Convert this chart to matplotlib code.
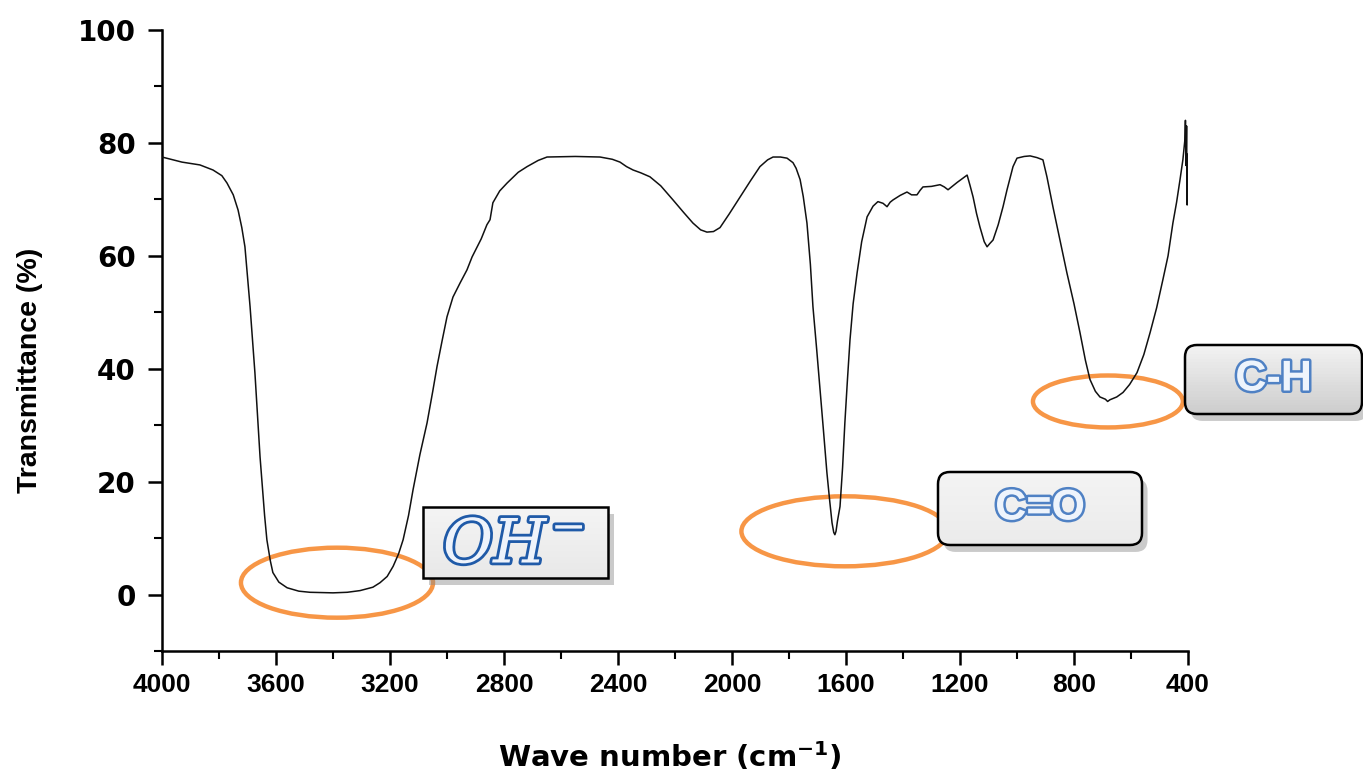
import matplotlib
matplotlib.use("Agg")
import matplotlib.pyplot as plt
from matplotlib import font_manager
from matplotlib.patches import Ellipse, FancyBboxPatch, Rectangle
from matplotlib.ticker import MultipleLocator
import matplotlib.patheffects as pe
import numpy as np

# ---------------- data ----------------
wavenumber = [4000, 3930, 3867, 3821, 3790, 3772, 3750, 3733, 3720, 3709, 3691, 3674,
              3656, 3640, 3632, 3620, 3611, 3590, 3561, 3520, 3481, 3400, 3350, 3305,
              3260, 3235, 3210, 3189, 3170, 3154, 3135, 3119, 3095, 3070, 3050, 3035,
              3017, 3000, 2979, 2954, 2930, 2912, 2880, 2860, 2849, 2839, 2815, 2789,
              2750, 2719, 2680, 2649, 2550, 2463, 2420, 2393, 2370, 2347, 2320, 2288,
              2250, 2207, 2170, 2137, 2110, 2088, 2065, 2042, 2010, 1972, 1935, 1902,
              1875, 1856, 1830, 1807, 1786, 1775, 1761, 1750, 1737, 1725, 1716, 1703,
              1691, 1679, 1667, 1657, 1649, 1643, 1639, 1635, 1630, 1621, 1612, 1604,
              1595, 1586, 1575, 1561, 1545, 1526, 1505, 1488, 1470, 1456, 1445, 1435,
              1410, 1386, 1370, 1351, 1340, 1330, 1300, 1270, 1255, 1242, 1210, 1175,
              1165, 1154, 1142, 1130, 1115, 1105, 1095, 1084, 1066, 1049, 1035, 1014,
              1000, 975, 954, 930, 909, 895, 874, 850, 825, 800, 779, 760, 744, 725,
              709, 690, 682, 674, 650, 628, 605, 579, 555, 533, 510, 488, 470, 453,
              440, 428, 418, 411, 409, 407, 405, 403, 401, 400]
transmittance = [77.5, 76.6, 76.1, 75.2, 74.2, 72.9, 70.8, 68.1, 65.0, 61.6, 51.0, 39.3,
                 24.4, 14.0, 9.7, 6.0, 3.9, 2.2, 1.2, 0.6, 0.4, 0.3, 0.4, 0.7,
                 1.3, 2.1, 3.2, 5.0, 7.2, 9.7, 14.0, 18.6, 24.8, 30.4, 36.0, 40.4,
                 45.0, 49.2, 52.7, 55.2, 57.5, 59.8, 63.0, 65.5, 66.4, 69.4, 71.5, 72.9,
                 74.8, 75.8, 76.9, 77.5, 77.6, 77.5, 77.1, 76.6, 75.8, 75.2, 74.7, 74.0,
                 72.4, 69.9, 67.7, 65.8, 64.6, 64.2, 64.3, 65.0, 67.4, 70.4, 73.3, 75.8,
                 77.0, 77.5, 77.5, 77.3, 76.5, 75.5, 73.5, 70.5, 65.8, 58.5, 51.0, 43.5,
                 36.3, 29.0, 21.6, 16.5, 12.7, 11.0, 10.6, 11.2, 13.0, 15.6, 22.5, 30.4,
                 38.0, 45.1, 51.5, 57.0, 62.5, 66.9, 68.8, 69.6, 69.3, 68.7, 69.5, 69.9,
                 70.7, 71.3, 70.8, 70.8, 71.6, 72.2, 72.3, 72.6, 72.2, 71.7, 73.0, 74.3,
                 72.5, 70.4, 67.5, 65.1, 62.5, 61.6, 62.2, 62.8, 65.5, 68.7, 71.7, 75.8,
                 77.3, 77.6, 77.7, 77.4, 77.0, 74.0, 68.7, 63.0, 57.0, 51.5, 46.4, 41.5,
                 38.1, 36.0, 35.0, 34.6, 34.2, 34.5, 35.0, 35.8, 37.2, 39.3, 42.5, 46.4,
                 50.8, 55.8, 60.0, 65.8, 69.5, 73.5, 77.0, 80.5, 84.0, 76.0, 83.0, 69.0,
                 78.0, 70.0]

x_ticks = [4000, 3600, 3200, 2800, 2400, 2000, 1600, 1200, 800, 400]
y_ticks = [0, 20, 40, 60, 80, 100]

x_label = "Wave number (cm$^{\\mathbf{-1}}$)"
y_label = "Transmittance (%)"

# annotations: label, ellipse centre (wavenumber, T), ellipse size (wavenumber, T)
band_labels = ["$OH^{-}$", "C=O", "C-H"]
band_centres = [(3386, 2.1), (1604, 11.2), (681, 34.2)]
band_sizes = [(674, 12.4), (726, 12.4), (526, 9.2)]


def pick_font(names):
    for n in names:
        try:
            font_manager.findfont(font_manager.FontProperties(family=n),
                                  fallback_to_default=False)
            return n
        except Exception:
            continue
    return "DejaVu Sans"


narrow = pick_font(["Liberation Sans Narrow", "Liberation Sans", "DejaVu Sans"])

W, H = 1363, 771
fig = plt.figure(figsize=(W / 100, H / 100), dpi=100)
ax = fig.add_axes([162 / W, 1 - 651 / H, 1026 / W, 621 / H])

ax.plot(wavenumber, transmittance, color="#111111", lw=1.1, zorder=4)

ax.set_xlim(4000, 400)
ax.set_ylim(-10, 100)
ax.set_xticks(x_ticks)
ax.set_yticks(y_ticks)
ax.xaxis.set_minor_locator(MultipleLocator(200))
ax.yaxis.set_minor_locator(MultipleLocator(10))

for s in ["top", "right"]:
    ax.spines[s].set_visible(False)
for s in ["left", "bottom"]:
    ax.spines[s].set_linewidth(1.8)

ax.tick_params(which="major", direction="out", length=10, width=1.8)
ax.tick_params(which="minor", direction="out", length=6, width=1.5)
ax.tick_params(axis="x", which="major", pad=6)
ax.tick_params(axis="y", which="major", pad=9)

for lab in ax.get_xticklabels():
    lab.set_fontfamily(narrow)
    lab.set_fontweight("bold")
    lab.set_fontsize(21 if narrow == "Liberation Sans Narrow" else 19)
for lab in ax.get_yticklabels():
    lab.set_fontfamily("DejaVu Sans")
    lab.set_fontweight("bold")
    lab.set_fontsize(20)

ax.set_xlabel(x_label, fontsize=21, fontweight="bold", family="DejaVu Sans",
              math_fontfamily="dejavusans")
ax.xaxis.set_label_coords(0.495, (651 - 757) / 621)
ax.xaxis.label.set_verticalalignment("center")

ax.set_ylabel(y_label, fontsize=20.5, fontweight="bold", family="Liberation Sans")
ax.yaxis.set_label_coords((30 - 162) / 1026, (651 - 370) / 621)
ax.yaxis.label.set_verticalalignment("center")
ax.yaxis.label.set_horizontalalignment("center")

orange = "#F79646"
for (cx, cy), (ew, eh) in zip(band_centres, band_sizes):
    ax.add_patch(Ellipse((cx, cy), ew, eh, fill=False, edgecolor=orange,
                         lw=3.2, zorder=3, clip_on=False))

inch = fig.dpi_scale_trans
box_specs = [
    # x, y, w, h (inches from bottom-left), style, top colour, bottom colour
    (4.23, (H - 578) / 100, 1.85, 0.71, "square,pad=0", "#f4f4f4", "#e8e8e8"),
    (9.38, (H - 545) / 100, 2.04, 0.73, "round,pad=0,rounding_size=0.12", "#f3f3f3", "#ebebeb"),
    (11.85, (H - 414) / 100, 1.77, 0.69, "round,pad=0,rounding_size=0.12", "#f2f2f2", "#cdcdcd"),
]
shadow = [pe.SimplePatchShadow(offset=(4, -5), shadow_rgbFace="#8a8a8a", alpha=0.45),
          pe.Normal()]
for (bx, by, bw, bh, style, ctop, cbot), text in zip(box_specs, band_labels):
    bg = FancyBboxPatch((bx, by), bw, bh, boxstyle=style, transform=inch,
                        facecolor=cbot, edgecolor="none", zorder=6, clip_on=False)
    bg.set_path_effects(shadow)
    fig.add_artist(bg)
    # vertical gradient
    n = 24
    top = np.array(matplotlib.colors.to_rgb(ctop))
    bot = np.array(matplotlib.colors.to_rgb(cbot))
    for i in range(n):
        f = i / (n - 1)
        col = bot + (top - bot) * f
        r = Rectangle((bx, by + bh * i / n), bw, bh / n + 0.005, transform=inch,
                      facecolor=col, edgecolor="none", zorder=6.1)
        fig.add_artist(r)
        r.set_clip_path(bg)
    edge = FancyBboxPatch((bx, by), bw, bh, boxstyle=style, transform=inch,
                          facecolor="none", edgecolor="black", lw=1.8, zorder=6.2,
                          clip_on=False)
    fig.add_artist(edge)
    tx, ty = bx + bw / 2, by + bh / 2
    if text.startswith("$"):
        fig.text(tx - 0.02, ty - 0.04, text, transform=inch, ha="center", va="center",
                 fontsize=44, color="#eef3fb", math_fontfamily="dejavuserif", zorder=7,
                 path_effects=[pe.withStroke(linewidth=4, foreground="#1f5aa8")])
    else:
        fig.text(tx, ty, text, transform=inch, ha="center", va="center",
                 fontsize=31, color="#eef4fc", family="Liberation Sans",
                 fontweight="bold", zorder=7,
                 path_effects=[pe.withStroke(linewidth=3.6, foreground="#4f81c4")])

fig.savefig("out.png", dpi=100)
